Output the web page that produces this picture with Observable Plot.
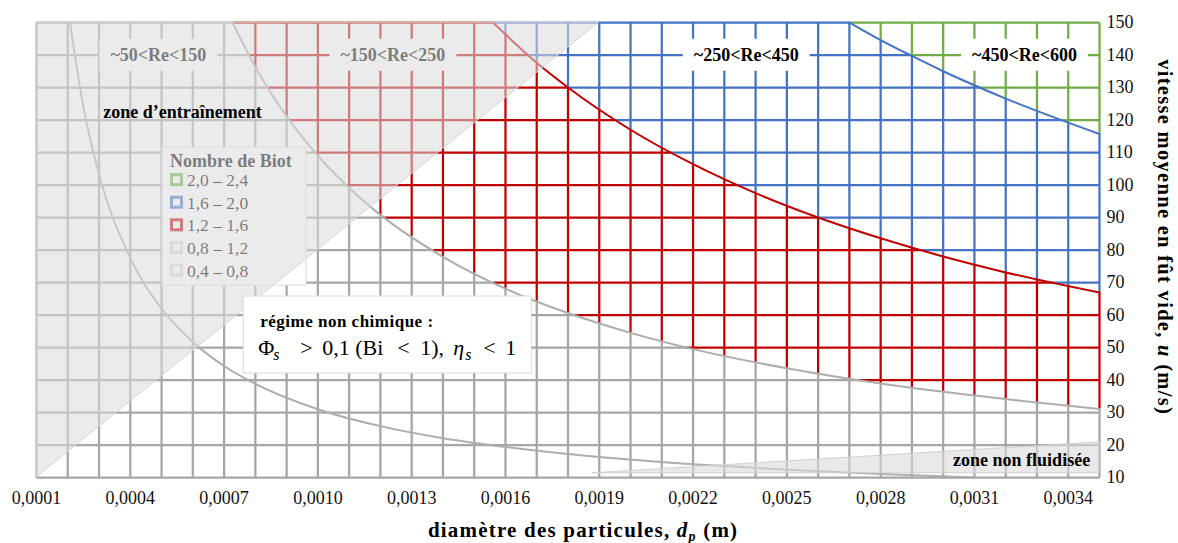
<!DOCTYPE html>
<html><head><meta charset="utf-8">
<script src="https://cdn.jsdelivr.net/npm/d3@7"></script>
<script src="https://cdn.jsdelivr.net/npm/@observablehq/plot@0.6"></script>
<style>
body{margin:0;background:#fff;}
svg text{font-family:"Liberation Serif",serif;}
</style></head><body><div id="chart"></div>
<script>
// ---- grid / tick values ----
const xGrid = [0.0001,0.0002,0.0003,0.0004,0.0005,0.0006,0.0007,0.0008,0.0009,0.0010,0.0011,0.0012,0.0013,0.0014,0.0015,0.0016,0.0017,0.0018,0.0019,0.0020,0.0021,0.0022,0.0023,0.0024,0.0025,0.0026,0.0027,0.0028,0.0029,0.0030,0.0031,0.0032,0.0033,0.0034,0.0035];
const yGrid = [10,20,30,40,50,60,70,80,90,100,110,120,130,140,150];
const xTicks = [0.0001,0.0004,0.0007,0.0010,0.0013,0.0016,0.0019,0.0022,0.0025,0.0028,0.0031,0.0034];
const yTicks = [10,20,30,40,50,60,70,80,90,100,110,120,130,140,150];

// ---- curves ----
const curveA_D = [0.000207,0.00025,0.0003,0.0004,0.0005,0.0006,0.0007,0.0008,0.0010,0.0012,0.0014,0.0016,0.0019,0.0022,0.0025,0.0028,0.0031];
const curveA_U = [150,124,103.3,77.5,62,51.7,44.3,38.8,31,25.8,22.1,19.4,16.3,14.1,12.4,11.1,10];
const bi12_D = [0.000727,0.0008,0.0009,0.0010,0.0011,0.0012,0.0014,0.0016,0.0018,0.0020,0.0022,0.0025,0.0028,0.0031,0.0035];
const bi12_U = [150,136.3,121.1,109,99.1,90.8,77.9,68.1,60.6,54.5,49.5,43.6,38.9,35.2,31.1];
const bi16_D = [0.00156,0.0017,0.0018,0.0020,0.0022,0.0024,0.0026,0.0028,0.0030,0.0032,0.0035];
const bi16_U = [150,137.6,130,117,106.4,97.5,90,83.6,78,73.1,66.9];
const bi20_D = [0.0027,0.0028,0.0029,0.0030,0.0032,0.0035];
const bi20_U = [150,144.6,139.7,135,126.6,115.7];

// ---- zones ----
const entrainD = [0.0001,0.0019];
const entrainU = [10,150];
const nonFluidD = [0.00188,0.0035];
const nonFluidLow = [11.3,11.3];
const nonFluidHigh = [11.3,20.8];

// ---- labels ----
const reLabels = ["~50<Re<150","~150<Re<250","~250<Re<450","~450<Re<600"];
const reLabelD = [0.00049,0.00124,0.00237,0.00326];
const reLabelU = [140,140,140,140];
const legendTitle = "Nombre de Biot";
const legendLabels = ["2,0 – 2,4","1,6 – 2,0","1,2 – 1,6","0,8 – 1,2","0,4 – 0,8"];
const legendColors = ["#70ad47","#4472c4","#c00000","#d9d9d9","#d9d9d9"];
const bandColors = ["#a6a6a6","#c00000","#4472c4","#70ad47"];

const boundaries = [[bi12_D,bi12_U],[bi16_D,bi16_U],[bi20_D,bi20_U]];
const uOn = ([D,U], d) => d < D[0] ? Infinity : d3.scaleLinear(D,U)(d);
const dOn = ([D,U], u) => d3.scaleLinear(U,D)(u);
const band = (d,u) => boundaries.filter(b => u > uOn(b,d)).length;

const xMin = xGrid[0], xMax = xGrid[xGrid.length-1];
const yMin = yGrid[0], yMax = yGrid[yGrid.length-1];
const segs = [];
for (const d of xGrid) {
  const cuts = [yMin, yMax, ...boundaries.map(b => uOn(b,d)).filter(v => v > yMin && v < yMax)].sort((a,b)=>a-b);
  for (let i=0;i<cuts.length-1;i++) segs.push({x1:d,x2:d,y1:cuts[i],y2:cuts[i+1],band:band(d,(cuts[i]+cuts[i+1])/2)});
}
for (const u of yGrid) {
  const cuts = [xMin, xMax, ...boundaries.map(b => dOn(b,u)).filter(v => v > xMin && v < xMax)].sort((a,b)=>a-b);
  for (let i=0;i<cuts.length-1;i++) {
    const m = (cuts[i]+cuts[i+1])/2;
    segs.push({x1:cuts[i],x2:cuts[i+1],y1:u,y2:u,band:band(m,u)});
  }
}
segs.sort((a,b)=>a.band-b.band);

const plot = Plot.plot({
  width: 1178, height: 543,
  marginLeft: 36, marginRight: 79, marginTop: 22, marginBottom: 66,
  style: {fontFamily: "Liberation Serif", fontSize: "18px", background: "white", color: "#111", overflow: "visible"},
  color: {type: "identity"},
  x: {domain: [xMin, xMax], ticks: xTicks, tickFormat: d => d.toFixed(4).replace(".", ","), tickSize: 0, tickPadding: 14, label: null},
  y: {domain: [yMin, yMax], axis: "right", ticks: yTicks, tickSize: 0, tickPadding: 7, label: null},
  marks: [
    Plot.link(segs, {x1:"x1", y1:"y1", x2:"x2", y2:"y2", stroke: d => bandColors[d.band], strokeWidth: 2.25}),
    Plot.line(d3.zip(curveA_D, curveA_U), {stroke: "#adadad", strokeWidth: 2, curve: "monotone-x", clip: true}),
    Plot.line(d3.zip(bi12_D, bi12_U), {stroke: "#adadad", strokeWidth: 2, curve: "monotone-x"}),
    Plot.line(d3.zip(bi16_D, bi16_U), {stroke: "#c00000", strokeWidth: 2, curve: "monotone-x"}),
    Plot.line(d3.zip(bi20_D, bi20_U), {stroke: "#4472c4", strokeWidth: 2, curve: "monotone-x"}),
    Plot.text(reLabels, {x: reLabelD, y: reLabelU, text: d => d, fontSize: 18, fontWeight: "bold", fill: "#000", letterSpacing: 0.6}),
    Plot.areaY(entrainD, {x: entrainD, y1: entrainU, y2: entrainD.map(() => yMax), fill: "#dbdbdb", fillOpacity: 0.56, stroke: "#d6d6d6", strokeWidth: 1}),
    Plot.areaY(nonFluidD, {x: nonFluidD, y1: nonFluidLow, y2: nonFluidHigh, fill: "#dbdbdb", fillOpacity: 0.6, stroke: "#d0d0d0", strokeWidth: 1}),
    Plot.text(["zone d’entraînement"], {x: [0.000567], y: [122.3], text: d => d, fontSize: 18, fontWeight: "bold", fill: "#000", letterSpacing: 0.2}),
    Plot.text(["zone non fluidisée"], {x: [0.00347], y: [15.4], text: d => d, textAnchor: "end", fontSize: 18, fontWeight: "bold", fill: "#000", letterSpacing: 0.5})
  ]
});
document.getElementById("chart").append(plot);

const svg = d3.select(plot);
const xS = plot.scale("x"), yS = plot.scale("y");

// background boxes behind Re labels
const textGroups = svg.selectAll('g[aria-label="text"]').nodes();
if (textGroups.length) {
  d3.select(textGroups[0]).selectAll("text").each(function() {
    const bb = this.getBBox();
    const r = document.createElementNS("http://www.w3.org/2000/svg", "rect");
    r.setAttribute("x", bb.x - 11); r.setAttribute("y", bb.y - 6);
    r.setAttribute("width", bb.width + 22); r.setAttribute("height", bb.height + 12);
    r.setAttribute("fill", "white"); r.setAttribute("stroke", "none");
    const tr = this.getAttribute("transform"); if (tr) r.setAttribute("transform", tr);
    this.parentNode.insertBefore(r, this);
  });
}

// legend (placed under the entrainment overlay)
const areaNode = svg.select('g[aria-label="area"]').node();
const legendD = 0.000503, legendU = 111.5;
const lg = svg.insert("g", () => areaNode).attr("text-anchor", "start")
  .attr("transform", `translate(${xS.apply(legendD)},${yS.apply(legendU)})`);
lg.append("rect").attr("width", 144).attr("height", 138).attr("fill", "white").attr("stroke", "#d9d9d9");
lg.append("text").attr("x", 8).attr("y", 20).attr("font-size", 18).attr("font-weight", "bold").attr("fill", "#000").text(legendTitle);
legendLabels.forEach((lab, i) => {
  const b = 39 + i * 22.6;
  lg.append("rect").attr("x", 9.5).attr("y", b - 11.5).attr("width", 10).attr("height", 10)
    .attr("fill", "none").attr("stroke", legendColors[i]).attr("stroke-width", 3);
  lg.append("text").attr("x", 25).attr("y", b).attr("font-size", 17.5).attr("fill", "#000").text(lab);
});

// regime annotation box
const regimeD = 0.000817, regimeU = 56.15;
const rx = xS.apply(regimeD), ry = yS.apply(regimeU);
const rg = svg.append("g").attr("text-anchor", "start");
rg.append("rect").attr("x", rx - 17).attr("y", ry - 31).attr("width", 288).attr("height", 77)
  .attr("fill", "white").attr("stroke", "#d9d9d9");
rg.append("text").attr("x", rx).attr("y", ry).attr("font-size", 17).attr("font-weight", "bold")
  .attr("letter-spacing", 0.5).attr("fill", "#000").text("régime non chimique :");
const fb = ry + 28;
const t2 = rg.append("text").attr("y", fb).attr("font-size", 22).attr("fill", "#000");
const parts = [
  {t: "Φ", dx: -2}, {t: "s", dx: 13, it: true, sub: true}, {t: ">", dx: 40}, {t: "0,1 (Bi", dx: 62},
  {t: "<", dx: 137}, {t: "1),", dx: 160}, {t: "η", dx: 193, it: true}, {t: "s", dx: 205, it: true, sub: true},
  {t: "<", dx: 223}, {t: "1", dx: 245}
];
parts.forEach(p => {
  const ts = t2.append("tspan").attr("x", rx + p.dx).attr("y", p.sub ? fb + 5 : fb).text(p.t);
  if (p.it) ts.attr("font-style", "italic");
  if (p.sub) ts.attr("font-size", 16);
});

// axis titles
const xt = svg.append("text").attr("x", xS.apply(0.00185)).attr("y", 537).attr("text-anchor", "middle")
  .attr("font-size", 21).attr("font-weight", "bold").attr("letter-spacing", 1.2).attr("fill", "#000").style("white-space", "pre");
xt.append("tspan").text("diamètre des particules, ");
xt.append("tspan").attr("font-style", "italic").text("d");
xt.append("tspan").attr("font-style", "italic").attr("font-size", 14).attr("dy", 4).text("p");
xt.append("tspan").attr("dy", -4).text(" (m)");

const yx = 1158, yy = yS.apply(83.8);
const yt = svg.append("text").attr("x", yx).attr("y", yy).attr("text-anchor", "middle")
  .attr("transform", `rotate(90,${yx},${yy})`)
  .attr("font-size", 20.5).attr("font-weight", "bold").attr("letter-spacing", 1.3).attr("fill", "#000").style("white-space", "pre");
yt.append("tspan").text("vitesse moyenne en fût vide, ");
yt.append("tspan").attr("font-style", "italic").text("u");
yt.append("tspan").text(" (m/s)");
</script></body></html>
